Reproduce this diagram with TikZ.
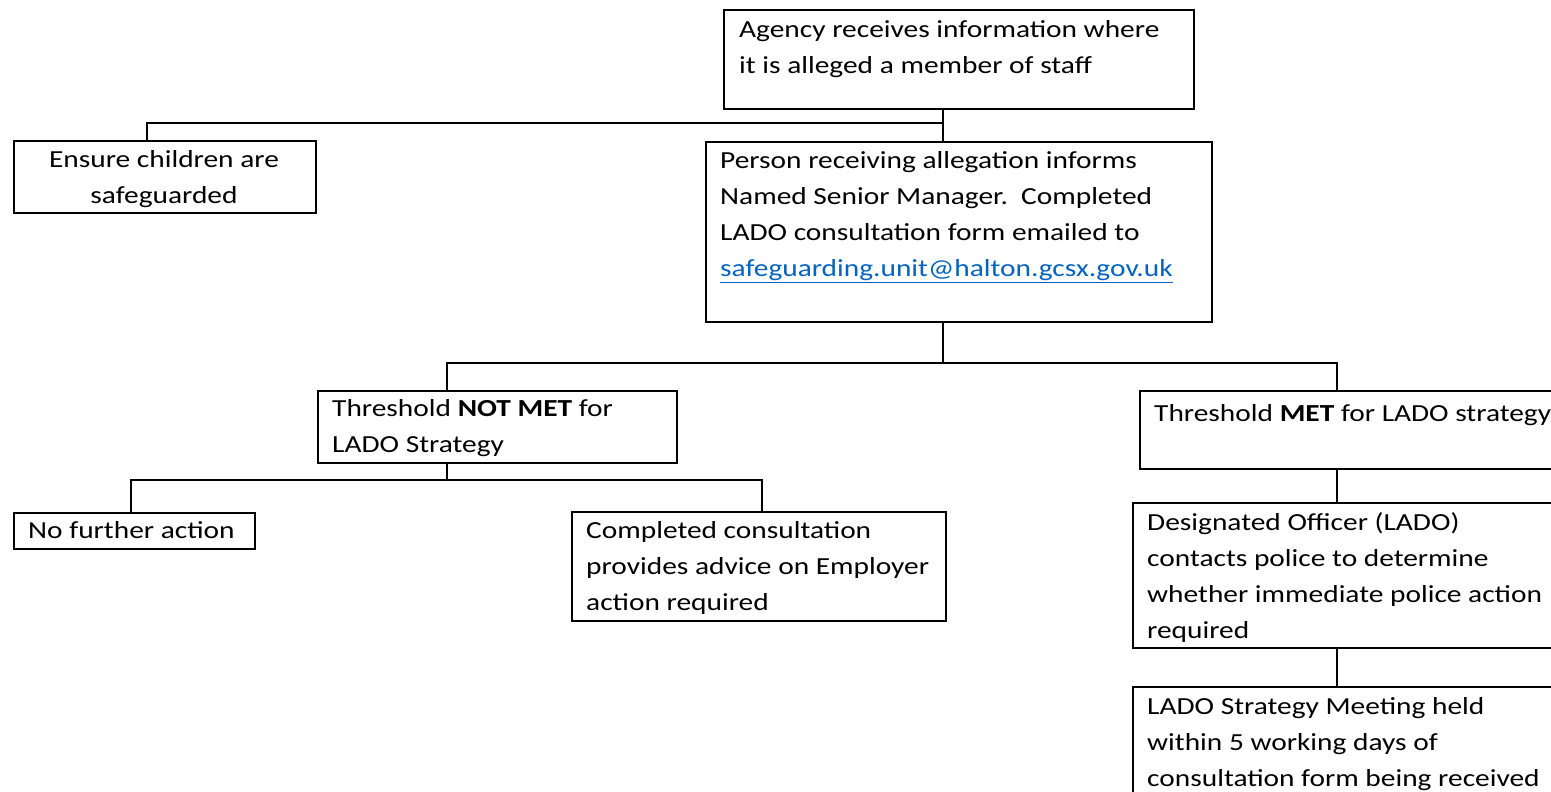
\documentclass[tikz,border=0pt]{standalone}
\usepackage{fontspec}
\setmainfont{Carlito}[FakeStretch=1.2]
\usepackage{xcolor}
\definecolor{linkblue}{HTML}{0563C1}
\newcommand{\fsz}{\fontsize{24.5}{36}\selectfont}
\tikzset{
  box/.style={draw=black, line width=2pt, rectangle, inner sep=0pt, anchor=north west},
  txt/.style={inner sep=0pt, anchor=north west, align=left, font=\fsz},
  ctxt/.style={inner sep=0pt, anchor=north, align=center, font=\fsz},
  conn/.style={draw=black, line width=2pt}
}
\begin{document}
\begin{tikzpicture}[x=1pt,y=-1pt]
\clip (0,0) rectangle (1551,792);
\fill[white] (0,0) rectangle (1551,792);
% x positions of the connector legs
\coordinate (xs) at (943,0);
\coordinate (xe) at (147,0);
\coordinate (xa) at (447,0);
\coordinate (xb) at (1337,0);
\coordinate (xc) at (131,0);
\coordinate (xd) at (762,0);
\coordinate (j1) at (943,123);
\coordinate (j2) at (943,363);
\coordinate (j3) at (447,480);
% boxes
\node[box, minimum width=470pt, minimum height=99pt] (top) at (723,9) {};
\node[box, minimum width=302pt, minimum height=72pt] (ens) at (13,140) {};
\node[box, minimum width=506pt, minimum height=180pt] (pers) at (705,141) {};
\node[box, minimum width=359pt, minimum height=72pt] (nm) at (317,390) {};
\node[box, minimum width=450pt, minimum height=78pt] (met) at (1139,390) {};
\node[box, minimum width=241pt, minimum height=36pt] (nfa) at (13,512) {};
\node[box, minimum width=374pt, minimum height=109pt] (cc) at (571,511) {};
\node[box, minimum width=450pt, minimum height=145pt] (des) at (1132,502) {};
\node[box, minimum width=450pt, minimum height=150pt] (lado) at (1132,686) {};
% texts
\node[txt] (ttop) at (739,11.8) {\strut Agency receives information where\\it is alleged a member of staff};
\node[ctxt] (tens) at (164,141.8) {\strut Ensure children are\\safeguarded};
\node[txt] (tpers) at (720,142.8) {\strut Person receiving allegation informs\\Named Senior Manager.\ \ Completed\\LADO consultation form emailed to\\\textcolor{linkblue}{\underline{safeguarding.unit@halton.gcsx.gov.uk}}};
\node[txt] (tnm) at (332,391) {\strut Threshold \textbf{NOT MET} for\\LADO Strategy};
\node[txt] (tmet) at (1154,396) {\strut Threshold \textbf{MET} for LADO strategy};
\node[txt] (tnfa) at (28,513) {\strut No further action};
\node[txt] (tcc) at (586,513) {\strut Completed consultation\\provides advice on Employer\\action required};
\node[txt] (tdes) at (1147,504.8) {\strut Designated Officer (LADO)\\contacts police to determine\\whether immediate police action\\required};
\node[txt] (tlado) at (1147,688.8) {\strut LADO Strategy Meeting held\\within 5 working days of\\consultation form being received};
% connectors
\draw[conn] (top.south -| xs) -- (pers.north -| xs);
\draw[conn] (ens.north -| xe) |- (j1);
\draw[conn] (pers.south -| xs) -- (j2);
\draw[conn] (nm.north -| xa) |- (j2) -| (met.north -| xb);
\draw[conn] (nm.south -| xa) -- (j3);
\draw[conn] (nfa.north -| xc) |- (j3) -| (cc.north -| xd);
\draw[conn] (met.south -| xb) -- (des.north -| xb);
\draw[conn] (des.south -| xb) -- (lado.north -| xb);
\end{tikzpicture}
\end{document}
